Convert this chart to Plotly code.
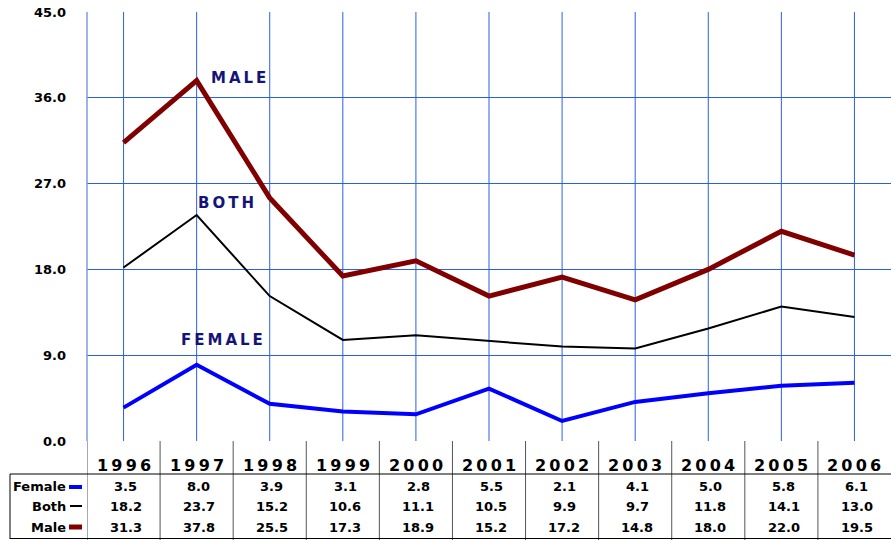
import plotly.graph_objects as go

years = ["1996", "1997", "1998", "1999", "2000", "2001", "2002", "2003", "2004", "2005", "2006"]
female = [3.5, 8.0, 3.9, 3.1, 2.8, 5.5, 2.1, 4.1, 5.0, 5.8, 6.1]
both = [18.2, 23.7, 15.2, 10.6, 11.1, 10.5, 9.9, 9.7, 11.8, 14.1, 13.0]
male = [31.3, 37.8, 25.5, 17.3, 18.9, 15.2, 17.2, 14.8, 18.0, 22.0, 19.5]
y_ticks = [0, 9, 18, 27, 36, 45]

W, H = 891, 540
L, T, B = 87, 12, 99
PH = H - T - B


def py(p):
    return (H - B - p) / PH


def px(p):
    return (p - L) / (W - L)


FONT = "DejaVu Sans"
xi = list(range(len(years)))

fig = go.Figure()
fig.add_trace(go.Scatter(x=xi, y=male, mode="lines", line=dict(color="#800000", width=5), name="Male"))
fig.add_trace(go.Scatter(x=xi, y=both, mode="lines", line=dict(color="#000000", width=2), name="Both"))
fig.add_trace(go.Scatter(x=xi, y=female, mode="lines", line=dict(color="#0000ff", width=4), name="Female"))

shapes = []
anns = []
grid = "#2a5fe4"
for i in xi:
    shapes.append(dict(type="line", xref="x", yref="paper", x0=i, x1=i, y0=0, y1=1,
                       line=dict(color=grid, width=1), layer="below"))
tcol = "#555555"
for i in range(len(years)):
    shapes.append(dict(type="line", xref="x", yref="paper", x0=i - 0.5, x1=i - 0.5,
                       y0=py(H), y1=0, line=dict(color=tcol, width=1)))
shapes.append(dict(type="line", xref="paper", yref="paper", x0=px(10), x1=1,
                   y0=py(474), y1=py(474), line=dict(color="#000000", width=1)))
shapes.append(dict(type="line", xref="paper", yref="paper", x0=px(10), x1=1,
                   y0=py(538.5), y1=py(538.5), line=dict(color="#000000", width=1)))
shapes.append(dict(type="line", xref="paper", yref="paper", x0=px(10), x1=px(10),
                   y0=py(474), y1=py(539), line=dict(color="#000000", width=1)))
shapes.append(dict(type="line", xref="paper", yref="paper", x0=0, x1=0,
                   y0=0, y1=1, line=dict(color="#7f9be0", width=1.5)))

shapes.append(dict(type="line", xref="paper", yref="paper", x0=px(69), x1=px(82),
                   y0=py(487), y1=py(487), line=dict(color="#0000ff", width=4)))
shapes.append(dict(type="line", xref="paper", yref="paper", x0=px(70), x1=px(82),
                   y0=py(506), y1=py(506), line=dict(color="#000000", width=2)))
shapes.append(dict(type="line", xref="paper", yref="paper", x0=px(69), x1=px(82),
                   y0=py(527), y1=py(527), line=dict(color="#800000", width=5)))

for i, yr in enumerate(years):
    anns.append(dict(x=i, y=py(465), xref="x", yref="paper", text="\u2009".join(yr), showarrow=False,
                     xanchor="center", yanchor="middle",
                     font=dict(family=FONT, size=16, color="#000000", weight="bold")))

rows = [("Female", female, 487), ("Both", both, 506), ("Male", male, 527)]
for label, vals, ypx in rows:
    anns.append(dict(x=px(68), y=py(ypx), xref="paper", yref="paper", text=label,
                     showarrow=False, xanchor="right", yanchor="middle",
                     font=dict(family=FONT, size=13, color="#000000", weight="bold")))
    for i, v in enumerate(vals):
        anns.append(dict(x=i + 0.03, y=py(ypx), xref="x", yref="paper", text=f"{v:.1f}",
                         showarrow=False, xanchor="center", yanchor="middle",
                         font=dict(family=FONT, size=13, color="#000000", weight="bold")))

lab_font = dict(family=FONT, size=15, color="#141478", weight="bold")
anns.append(dict(x=1.57, y=38.1, xref="x", yref="y", text="\u2009".join("MALE"), showarrow=False,
                 xanchor="center", yanchor="middle", font=lab_font))
anns.append(dict(x=1.40, y=25.0, xref="x", yref="y", text="\u2009".join("BOTH"), showarrow=False,
                 xanchor="center", yanchor="middle", font=lab_font))
anns.append(dict(x=1.35, y=10.6, xref="x", yref="y", text="\u2009".join("FEMALE"), showarrow=False,
                 xanchor="center", yanchor="middle", font=lab_font))

fig.update_layout(
    width=W, height=H,
    margin=dict(l=L, r=0, t=T, b=B),
    paper_bgcolor="white", plot_bgcolor="white",
    showlegend=False,
    shapes=shapes, annotations=anns,
    xaxis=dict(range=[-0.5, 10.5], showgrid=False, zeroline=False, showticklabels=False,
               showline=False, fixedrange=True),
    yaxis=dict(range=[0, 45], tickvals=y_ticks, tickformat=".1f", showgrid=True,
               gridcolor=grid, gridwidth=1, zeroline=False, showline=False,
               ticks="", ticklabelstandoff=20,
               tickfont=dict(family=FONT, size=13, color="#000000", weight="bold")),
)

fig.write_html("out.html", config={"displayModeBar": False},
               post_script="document.body.style.margin='0';document.body.style.overflow='hidden';")
